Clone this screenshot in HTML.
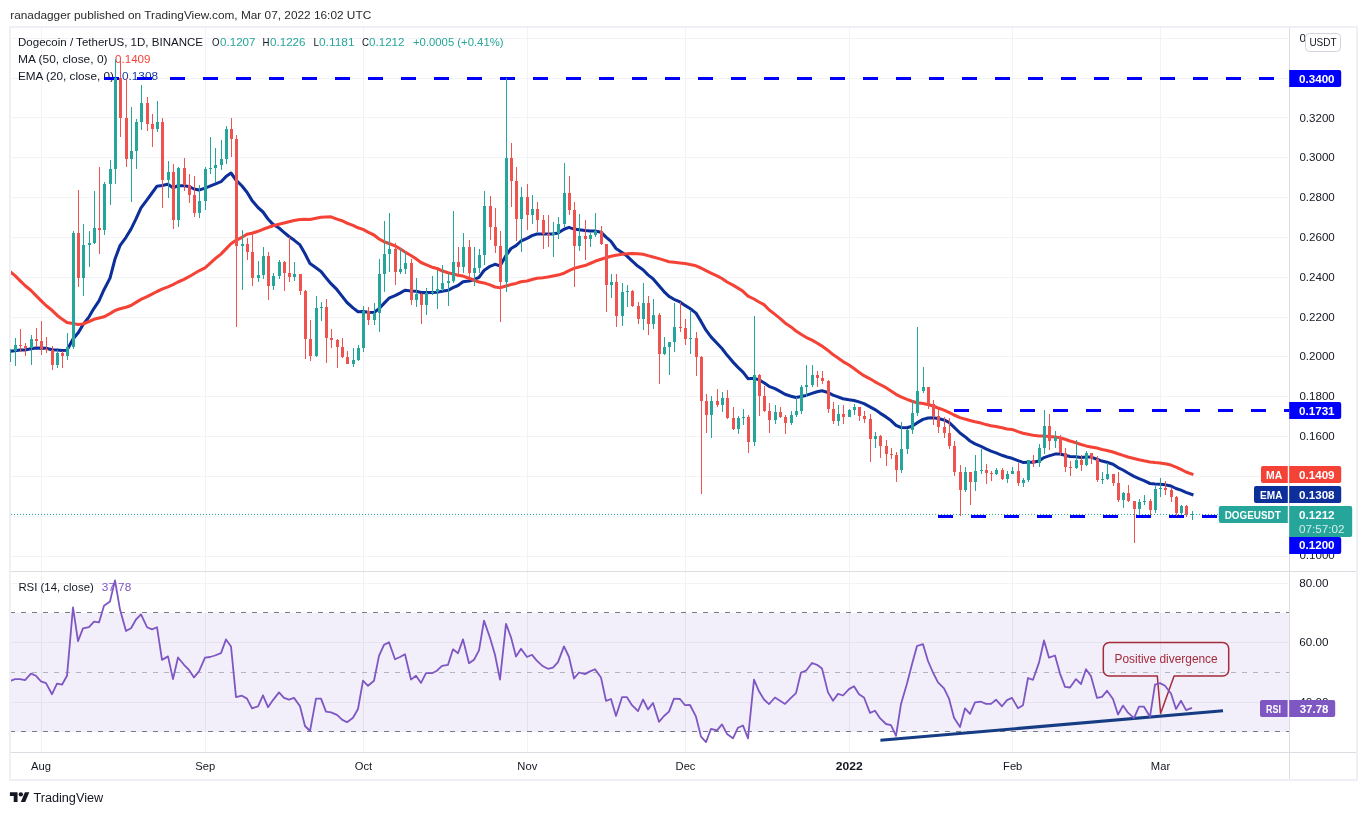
<!DOCTYPE html><html><head><meta charset="utf-8"><style>html,body{margin:0;padding:0;background:#fff}body{width:1367px;height:815px;overflow:hidden;font-family:"Liberation Sans",sans-serif}</style></head><body><svg width="1367" height="815" viewBox="0 0 1367 815" style="will-change:transform;display:block;font-family:'Liberation Sans', sans-serif">
<rect width="1367" height="815" fill="#fff"/>
<defs><clipPath id="cp"><rect x="10.6" y="28" width="1279" height="724"/></clipPath></defs>
<text x="10.2" y="19.2" font-size="11.2" fill="#2a2a2a" textLength="361" lengthAdjust="spacingAndGlyphs">ranadagger published on TradingView.com, Mar 07, 2022 16:02 UTC</text>
<rect x="11" y="613" width="1278" height="119" fill="#f2eefa"/>
<g fill="#f2f3f6">
<rect x="11" y="38" width="1278" height="1"/>
<rect x="11" y="78" width="1278" height="1"/>
<rect x="11" y="117" width="1278" height="1"/>
<rect x="11" y="157" width="1278" height="1"/>
<rect x="11" y="197" width="1278" height="1"/>
<rect x="11" y="237" width="1278" height="1"/>
<rect x="11" y="277" width="1278" height="1"/>
<rect x="11" y="317" width="1278" height="1"/>
<rect x="11" y="356" width="1278" height="1"/>
<rect x="11" y="396" width="1278" height="1"/>
<rect x="11" y="436" width="1278" height="1"/>
<rect x="11" y="476" width="1278" height="1"/>
<rect x="11" y="516" width="1278" height="1"/>
<rect x="11" y="556" width="1278" height="1"/>
<rect x="41" y="28" width="1" height="724"/>
<rect x="205" y="28" width="1" height="724"/>
<rect x="363" y="28" width="1" height="724"/>
<rect x="527" y="28" width="1" height="724"/>
<rect x="685" y="28" width="1" height="724"/>
<rect x="849" y="28" width="1" height="724"/>
<rect x="1012" y="28" width="1" height="724"/>
<rect x="1160" y="28" width="1" height="724"/>
</g>
<rect x="11" y="583" width="1278" height="1" fill="#f2f3f6"/>
<g fill="#e6e3ef">
<rect x="11" y="642" width="1278" height="1"/>
<rect x="11" y="702" width="1278" height="1"/>
</g>
<g fill="#e4e0ee">
<rect x="41" y="613" width="1" height="119"/>
<rect x="205" y="613" width="1" height="119"/>
<rect x="363" y="613" width="1" height="119"/>
<rect x="527" y="613" width="1" height="119"/>
<rect x="685" y="613" width="1" height="119"/>
<rect x="849" y="613" width="1" height="119"/>
<rect x="1012" y="613" width="1" height="119"/>
<rect x="1160" y="613" width="1" height="119"/>
</g>
<path d="M10 612.5H1289M10 731.5H1289" stroke="#787b86" stroke-width="1" stroke-dasharray="5 6" fill="none"/>
<path d="M10 672.5H1289" stroke="#b2b5be" stroke-width="1" stroke-dasharray="5 6" fill="none"/>
<text x="18.0" y="46.2" font-size="11.2" fill="#131722" textLength="185.0" lengthAdjust="spacingAndGlyphs">Dogecoin / TetherUS, 1D, BINANCE</text>
<text x="212.0" y="46.2" font-size="11.2" fill="#131722" textLength="7.5" lengthAdjust="spacingAndGlyphs">O</text>
<text x="220.0" y="46.2" font-size="11.2" fill="#26a69a" textLength="35.5" lengthAdjust="spacingAndGlyphs">0.1207</text>
<text x="262.5" y="46.2" font-size="11.2" fill="#131722" textLength="7.0" lengthAdjust="spacingAndGlyphs">H</text>
<text x="270.0" y="46.2" font-size="11.2" fill="#26a69a" textLength="35.5" lengthAdjust="spacingAndGlyphs">0.1226</text>
<text x="313.5" y="46.2" font-size="11.2" fill="#131722" textLength="5.5" lengthAdjust="spacingAndGlyphs">L</text>
<text x="319.0" y="46.2" font-size="11.2" fill="#26a69a" textLength="35.5" lengthAdjust="spacingAndGlyphs">0.1181</text>
<text x="362.0" y="46.2" font-size="11.2" fill="#131722" textLength="7.0" lengthAdjust="spacingAndGlyphs">C</text>
<text x="369.0" y="46.2" font-size="11.2" fill="#26a69a" textLength="35.5" lengthAdjust="spacingAndGlyphs">0.1212</text>
<text x="413.0" y="46.2" font-size="11.2" fill="#26a69a" textLength="90.5" lengthAdjust="spacingAndGlyphs">+0.0005 (+0.41%)</text>
<text x="18.0" y="63.2" font-size="11.2" fill="#131722" textLength="89.5" lengthAdjust="spacingAndGlyphs">MA (50, close, 0)</text>
<text x="115.0" y="63.2" font-size="11.2" fill="#f44336" textLength="35.5" lengthAdjust="spacingAndGlyphs">0.1409</text>
<text x="18.0" y="79.8" font-size="11.2" fill="#131722" textLength="96.0" lengthAdjust="spacingAndGlyphs">EMA (20, close, 0)</text>
<text x="122.0" y="79.8" font-size="11.2" fill="#1a3c9c" textLength="36.0" lengthAdjust="spacingAndGlyphs">0.1308</text>
<text x="18.4" y="591.0" font-size="11.2" fill="#131722" textLength="75.4" lengthAdjust="spacingAndGlyphs">RSI (14, close)</text>
<text x="101.7" y="591.0" font-size="11.2" fill="#7e57c2" textLength="29.5" lengthAdjust="spacingAndGlyphs">37.78</text>
<polyline clip-path="url(#cp)" points="9.0,351.3 15.0,350.7 20.0,350.1 25.0,349.9 31.0,348.8 36.0,348.1 41.0,348.1 46.0,348.3 52.0,349.8 57.0,350.0 62.0,350.5 67.0,350.2 73.0,339.0 78.0,333.1 83.0,324.7 89.0,316.8 94.0,308.3 99.0,300.8 104.0,289.7 110.0,278.1 115.0,259.0 120.0,245.6 126.0,237.3 131.0,229.1 136.0,218.9 141.0,207.9 147.0,199.9 152.0,193.0 157.0,186.2 162.0,185.6 168.0,184.3 173.0,187.7 178.0,185.8 184.0,185.7 189.0,186.5 194.0,189.0 199.0,190.1 205.0,188.1 210.0,186.1 215.0,184.1 221.0,181.7 226.0,176.6 231.0,173.0 236.0,180.0 242.0,186.0 247.0,192.3 252.0,200.4 258.0,207.5 263.0,212.0 268.0,219.0 273.0,224.4 279.0,228.0 284.0,232.3 289.0,236.5 294.0,240.1 300.0,244.9 305.0,253.8 310.0,263.5 316.0,267.7 321.0,271.5 326.0,277.8 331.0,283.7 337.0,289.7 342.0,296.1 347.0,302.5 353.0,307.9 358.0,311.7 363.0,311.6 368.0,312.3 374.0,312.4 379.0,308.7 384.0,303.4 389.0,298.2 395.0,295.7 400.0,293.1 405.0,290.2 411.0,291.0 416.0,291.3 421.0,292.6 426.0,292.6 432.0,292.5 437.0,292.2 442.0,291.2 448.0,290.3 453.0,287.6 458.0,285.5 463.0,281.8 469.0,280.9 474.0,279.7 479.0,277.3 484.0,270.5 490.0,266.3 495.0,264.3 500.0,265.9 506.0,255.6 511.0,248.5 516.0,245.7 521.0,241.0 527.0,238.4 532.0,235.6 537.0,234.0 543.0,234.0 548.0,234.1 553.0,234.0 558.0,233.0 564.0,229.2 569.0,227.4 574.0,229.1 579.0,229.8 585.0,230.6 590.0,231.0 595.0,230.9 601.0,232.2 606.0,237.1 611.0,241.4 616.0,248.5 622.0,252.5 627.0,256.1 632.0,260.9 638.0,266.3 643.0,269.8 648.0,274.9 653.0,278.7 659.0,285.8 664.0,291.6 669.0,296.4 674.0,299.3 680.0,301.9 685.0,305.4 690.0,308.5 696.0,313.1 701.0,321.4 706.0,330.2 711.0,336.9 717.0,343.3 722.0,348.5 727.0,355.1 733.0,362.1 738.0,367.4 743.0,372.1 748.0,378.7 754.0,378.3 759.0,379.9 764.0,382.8 769.0,386.3 775.0,388.7 780.0,391.4 785.0,394.3 791.0,396.3 796.0,397.6 801.0,396.5 806.0,395.4 812.0,393.4 817.0,391.8 822.0,390.8 828.0,392.5 833.0,395.1 838.0,396.9 843.0,398.7 849.0,399.8 854.0,400.5 859.0,401.9 864.0,403.6 870.0,406.9 875.0,409.6 880.0,413.1 886.0,416.9 891.0,420.6 896.0,425.3 901.0,427.5 907.0,427.7 912.0,426.3 917.0,422.9 923.0,419.4 928.0,418.0 933.0,417.7 938.0,418.5 944.0,419.9 949.0,422.3 954.0,427.1 960.0,433.0 965.0,436.7 970.0,441.0 975.0,443.8 981.0,446.3 986.0,448.8 991.0,451.1 996.0,452.9 1002.0,455.3 1007.0,457.0 1012.0,458.3 1018.0,460.6 1023.0,462.4 1028.0,462.2 1033.0,462.3 1039.0,460.9 1044.0,457.6 1049.0,455.9 1055.0,454.1 1060.0,454.0 1065.0,455.2 1070.0,456.4 1076.0,456.7 1081.0,457.5 1086.0,457.0 1091.0,457.1 1097.0,459.3 1102.0,461.1 1107.0,462.3 1113.0,464.3 1118.0,467.6 1123.0,470.0 1128.0,473.0 1134.0,476.3 1139.0,478.7 1144.0,480.7 1150.0,483.5 1155.0,484.0 1160.0,484.3 1165.0,484.8 1171.0,486.0 1176.0,488.5 1181.0,490.1 1186.0,492.4 1192.0,494.5" fill="none" stroke="#0c2f9a" stroke-width="3.05" stroke-linejoin="round" stroke-linecap="square"/>
<polyline clip-path="url(#cp)" points="9.0,270.7 15.0,275.6 20.0,280.6 25.0,285.5 31.0,290.5 36.0,295.6 41.0,300.6 46.0,305.5 52.0,310.3 57.0,315.2 62.0,319.1 67.0,322.5 73.0,323.4 78.0,324.4 83.0,324.0 89.0,321.5 94.0,319.3 99.0,318.1 104.0,316.8 110.0,313.6 115.0,310.5 120.0,308.8 126.0,307.2 131.0,305.5 136.0,302.4 141.0,299.4 147.0,296.7 152.0,294.1 157.0,291.5 162.0,289.2 168.0,286.9 173.0,284.6 178.0,282.0 184.0,279.3 189.0,276.7 194.0,273.8 199.0,270.8 205.0,267.9 210.0,263.4 215.0,258.8 221.0,254.1 226.0,248.9 231.0,243.7 236.0,240.3 242.0,237.3 247.0,234.3 252.0,233.3 258.0,231.3 263.0,229.3 268.0,227.5 273.0,225.8 279.0,224.3 284.0,223.0 289.0,221.7 294.0,220.4 300.0,219.4 305.0,219.3 310.0,219.4 316.0,218.2 321.0,217.3 326.0,217.0 331.0,216.8 337.0,219.1 342.0,220.7 347.0,223.1 353.0,225.4 358.0,227.8 363.0,229.4 368.0,232.2 374.0,235.0 379.0,239.0 384.0,241.7 389.0,243.5 395.0,245.9 400.0,248.8 405.0,252.0 411.0,255.5 416.0,258.8 421.0,262.5 426.0,264.7 432.0,267.2 437.0,268.5 442.0,270.8 448.0,272.8 453.0,274.1 458.0,275.2 463.0,276.1 469.0,278.2 474.0,280.2 479.0,282.0 484.0,282.9 490.0,284.9 495.0,287.0 500.0,287.7 506.0,286.0 511.0,284.6 516.0,283.4 521.0,281.8 527.0,281.0 532.0,279.5 537.0,278.3 543.0,277.8 548.0,277.0 553.0,276.1 558.0,275.1 564.0,273.2 569.0,270.6 574.0,268.4 579.0,267.0 585.0,265.6 590.0,263.5 595.0,261.3 601.0,259.3 606.0,257.8 611.0,256.2 616.0,255.3 622.0,254.2 627.0,253.8 632.0,253.5 638.0,253.7 643.0,254.2 648.0,255.6 653.0,256.9 659.0,258.6 664.0,260.1 669.0,261.7 674.0,262.3 680.0,263.0 685.0,263.6 690.0,264.5 696.0,265.8 701.0,268.0 706.0,270.7 711.0,273.1 717.0,275.9 722.0,278.5 727.0,282.0 733.0,285.1 738.0,288.1 743.0,291.3 748.0,296.1 754.0,299.0 759.0,302.0 764.0,304.6 769.0,309.8 775.0,314.4 780.0,318.4 785.0,322.9 791.0,326.9 796.0,331.0 801.0,334.3 806.0,337.3 812.0,340.1 817.0,343.0 822.0,346.1 828.0,350.4 833.0,354.6 838.0,358.0 843.0,361.6 849.0,365.0 854.0,368.5 859.0,372.2 864.0,375.7 870.0,378.8 875.0,381.8 880.0,384.5 886.0,387.7 891.0,391.0 896.0,394.3 901.0,396.9 907.0,399.4 912.0,401.2 917.0,402.7 923.0,403.4 928.0,404.5 933.0,406.0 938.0,408.0 944.0,410.1 949.0,412.3 954.0,415.0 960.0,417.6 965.0,419.1 970.0,420.4 975.0,421.8 981.0,423.1 986.0,424.6 991.0,425.7 996.0,426.5 1002.0,427.7 1007.0,428.9 1012.0,429.4 1018.0,431.6 1023.0,433.3 1028.0,434.3 1033.0,435.2 1039.0,435.9 1044.0,436.1 1049.0,436.4 1055.0,436.9 1060.0,437.7 1065.0,439.3 1070.0,441.0 1076.0,442.7 1081.0,444.5 1086.0,445.9 1091.0,446.9 1097.0,448.1 1102.0,449.4 1107.0,450.5 1113.0,452.0 1118.0,453.8 1123.0,455.4 1128.0,457.0 1134.0,458.4 1139.0,459.7 1144.0,460.8 1150.0,461.9 1155.0,462.6 1160.0,462.9 1165.0,463.8 1171.0,465.1 1176.0,467.1 1181.0,469.4 1186.0,472.0 1192.0,474.1" fill="none" stroke="#f44336" stroke-width="3.05" stroke-linejoin="round" stroke-linecap="square"/>
<path d="M104 78.5H1289" stroke="#0000ff" stroke-width="3" stroke-dasharray="15 18" fill="none"/>
<path d="M954 410.5H1289" stroke="#0000ff" stroke-width="3" stroke-dasharray="15 18" fill="none"/>
<path d="M938 516.5H1218" stroke="#0000ff" stroke-width="3" stroke-dasharray="15 18" fill="none"/>
<path d="M9 349h1V362h-1zM10 351h1V354h-1zM15 338h1V366h-1zM14 345h3V351h-3zM31 335h1V365h-1zM30 339h3V348h-3zM57 350h1V368h-1zM56 353h3V365h-3zM67 333h1V360h-1zM66 347h3V356h-3zM73 231h1V349h-1zM72 233h3V347h-3zM83 224h1V296h-1zM82 245h3V278h-3zM89 231h1V267h-1zM88 243h3V245h-3zM94 191h1V244h-1zM93 228h3V243h-3zM104 182h1V235h-1zM103 184h3V230h-3zM110 160h1V205h-1zM109 169h3V184h-3zM115 59h1V184h-1zM114 78h3V169h-3zM131 107h1V202h-1zM130 151h3V159h-3zM136 119h1V169h-1zM135 122h3V151h-3zM141 85h1V130h-1zM140 103h3V122h-3zM157 101h1V132h-1zM156 122h3V129h-3zM168 161h1V198h-1zM167 172h3V180h-3zM178 167h1V227h-1zM177 168h3V220h-3zM199 185h1V218h-1zM198 201h3V213h-3zM205 167h1V210h-1zM204 169h3V201h-3zM210 137h1V174h-1zM209 168h3V169h-3zM215 148h1V182h-1zM214 165h3V168h-3zM221 140h1V170h-1zM220 159h3V165h-3zM226 126h1V164h-1zM225 129h3V159h-3zM242 230h1V290h-1zM241 244h3V246h-3zM258 261h1V282h-1zM257 275h3V278h-3zM263 247h1V279h-1zM262 256h3V275h-3zM273 273h1V290h-1zM272 276h3V286h-3zM279 260h1V279h-1zM278 262h3V276h-3zM294 262h1V281h-1zM293 274h3V277h-3zM316 296h1V357h-1zM315 308h3V356h-3zM321 302h1V321h-1zM320 307h3V308h-3zM353 348h1V367h-1zM352 360h3V364h-3zM358 345h1V361h-1zM357 348h3V360h-3zM363 306h1V352h-1zM362 311h3V348h-3zM374 303h1V325h-1zM373 313h3V320h-3zM379 259h1V332h-1zM378 274h3V313h-3zM384 221h1V292h-1zM383 254h3V274h-3zM389 213h1V272h-1zM388 249h3V254h-3zM400 248h1V274h-1zM399 269h3V272h-3zM405 251h1V274h-1zM404 263h3V269h-3zM416 278h1V307h-1zM415 294h3V300h-3zM426 288h1V315h-1zM425 293h3V305h-3zM432 276h1V295h-1zM431 292h3V293h-3zM437 270h1V309h-1zM436 289h3V292h-3zM442 265h1V291h-1zM441 283h3V289h-3zM448 273h1V306h-1zM447 281h3V283h-3zM453 211h1V283h-1zM452 262h3V281h-3zM463 233h1V273h-1zM462 247h3V267h-3zM474 247h1V286h-1zM473 268h3V273h-3zM479 249h1V273h-1zM478 255h3V268h-3zM484 191h1V265h-1zM483 206h3V255h-3zM506 78h1V292h-1zM505 158h3V282h-3zM521 187h1V252h-1zM520 197h3V219h-3zM532 195h1V224h-1zM531 209h3V215h-3zM553 222h1V257h-1zM552 233h3V235h-3zM558 217h1V239h-1zM557 224h3V233h-3zM564 163h1V227h-1zM563 193h3V224h-3zM579 214h1V251h-1zM578 236h3V246h-3zM590 233h1V247h-1zM589 235h3V239h-3zM595 213h1V237h-1zM594 231h3V235h-3zM611 274h1V298h-1zM610 282h3V285h-3zM622 283h1V326h-1zM621 292h3V316h-3zM627 285h1V307h-1zM626 291h3V292h-3zM643 283h1V330h-1zM642 303h3V319h-3zM653 299h1V329h-1zM652 315h3V324h-3zM664 337h1V355h-1zM663 347h3V354h-3zM669 342h1V375h-1zM668 342h3V347h-3zM674 303h1V352h-1zM673 327h3V342h-3zM690 310h1V354h-1zM689 338h3V339h-3zM711 396h1V438h-1zM710 401h3V415h-3zM722 392h1V412h-1zM721 398h3V405h-3zM738 416h1V434h-1zM737 418h3V429h-3zM743 409h1V425h-1zM742 417h3V418h-3zM754 316h1V446h-1zM753 375h3V442h-3zM775 405h1V424h-1zM774 412h3V420h-3zM791 411h1V425h-1zM790 415h3V423h-3zM796 397h1V417h-1zM795 411h3V415h-3zM801 385h1V414h-1zM800 387h3V411h-3zM806 365h1V397h-1zM805 385h3V387h-3zM812 365h1V387h-1zM811 375h3V385h-3zM838 405h1V426h-1zM837 414h3V421h-3zM849 409h1V417h-1zM848 410h3V417h-3zM854 404h1V415h-1zM853 407h3V410h-3zM875 432h1V448h-1zM874 436h3V439h-3zM901 422h1V473h-1zM900 449h3V470h-3zM907 429h1V454h-1zM906 430h3V449h-3zM912 400h1V434h-1zM911 413h3V430h-3zM917 327h1V416h-1zM916 391h3V413h-3zM923 367h1V393h-1zM922 387h3V391h-3zM965 467h1V492h-1zM964 472h3V490h-3zM975 455h1V491h-1zM974 471h3V482h-3zM981 449h1V474h-1zM980 470h3V471h-3zM996 468h1V475h-1zM995 470h3V474h-3zM1007 471h1V483h-1zM1006 474h3V479h-3zM1012 467h1V474h-1zM1011 471h3V474h-3zM1023 478h1V487h-1zM1022 480h3V483h-3zM1028 460h1V482h-1zM1027 460h3V480h-3zM1039 444h1V467h-1zM1038 448h3V463h-3zM1044 410h1V454h-1zM1043 426h3V448h-3zM1055 431h1V448h-1zM1054 437h3V441h-3zM1076 440h1V469h-1zM1075 460h3V468h-3zM1086 451h1V466h-1zM1085 453h3V465h-3zM1102 472h1V484h-1zM1101 479h3V480h-3zM1107 463h1V480h-1zM1106 474h3V479h-3zM1123 492h1V508h-1zM1122 493h3V500h-3zM1139 499h1V515h-1zM1138 502h3V509h-3zM1144 495h1V505h-1zM1143 501h3V502h-3zM1155 486h1V513h-1zM1154 489h3V510h-3zM1160 478h1V497h-1zM1159 488h3V489h-3zM1181 505h1V514h-1zM1180 506h3V513h-3zM1192 511h1V520h-1zM1191 514h3V515h-3z" fill="#26a69a"/>
<path d="M20 329h1V352h-1zM19 345h3V346h-3zM25 343h1V356h-1zM24 346h3V348h-3zM36 328h1V347h-1zM35 339h3V341h-3zM41 321h1V355h-1zM40 341h3V349h-3zM46 337h1V353h-1zM45 349h3V350h-3zM52 346h1V370h-1zM51 350h3V365h-3zM62 351h1V368h-1zM61 353h3V356h-3zM78 190h1V287h-1zM77 233h3V278h-3zM99 167h1V254h-1zM98 228h3V230h-3zM120 58h1V137h-1zM119 78h3V118h-3zM126 78h1V167h-1zM125 118h3V159h-3zM147 97h1V131h-1zM146 103h3V124h-3zM152 114h1V147h-1zM151 124h3V129h-3zM162 118h1V208h-1zM161 122h3V180h-3zM173 164h1V229h-1zM172 172h3V220h-3zM184 158h1V191h-1zM183 168h3V185h-3zM189 174h1V203h-1zM188 185h3V195h-3zM194 176h1V217h-1zM193 195h3V213h-3zM231 118h1V157h-1zM230 129h3V139h-3zM236 135h1V327h-1zM235 139h3V246h-3zM247 238h1V260h-1zM246 244h3V252h-3zM252 234h1V286h-1zM251 252h3V278h-3zM268 252h1V300h-1zM267 256h3V286h-3zM284 261h1V291h-1zM283 262h3V273h-3zM289 237h1V282h-1zM288 273h3V277h-3zM300 274h1V295h-1zM299 274h3V291h-3zM305 290h1V359h-1zM304 291h3V339h-3zM310 320h1V361h-1zM309 339h3V356h-3zM326 299h1V363h-1zM325 307h3V338h-3zM331 329h1V348h-1zM330 338h3V340h-3zM337 339h1V368h-1zM336 340h3V347h-3zM342 338h1V358h-1zM341 347h3V357h-3zM347 351h1V364h-1zM346 357h3V364h-3zM368 307h1V325h-1zM367 311h3V320h-3zM395 243h1V285h-1zM394 249h3V272h-3zM411 259h1V305h-1zM410 263h3V300h-3zM421 293h1V324h-1zM420 294h3V305h-3zM458 247h1V274h-1zM457 262h3V267h-3zM469 240h1V277h-1zM468 247h3V273h-3zM490 196h1V240h-1zM489 206h3V227h-3zM495 208h1V253h-1zM494 227h3V246h-3zM500 231h1V322h-1zM499 246h3V282h-3zM511 143h1V207h-1zM510 158h3V181h-3zM516 167h1V241h-1zM515 181h3V219h-3zM527 184h1V230h-1zM526 197h3V215h-3zM537 202h1V232h-1zM536 209h3V220h-3zM543 215h1V249h-1zM542 220h3V234h-3zM548 215h1V247h-1zM547 234h3V235h-3zM569 176h1V215h-1zM568 193h3V210h-3zM574 202h1V287h-1zM573 210h3V246h-3zM585 220h1V260h-1zM584 236h3V239h-3zM601 226h1V245h-1zM600 231h3V244h-3zM606 244h1V312h-1zM605 244h3V285h-3zM616 274h1V327h-1zM615 282h3V316h-3zM632 290h1V307h-1zM631 291h3V306h-3zM638 302h1V324h-1zM637 306h3V319h-3zM648 296h1V335h-1zM647 303h3V324h-3zM659 313h1V384h-1zM658 315h3V354h-3zM680 302h1V332h-1zM679 327h3V328h-3zM685 319h1V345h-1zM684 328h3V339h-3zM696 332h1V376h-1zM695 338h3V357h-3zM701 356h1V494h-1zM700 357h3V401h-3zM706 394h1V433h-1zM705 401h3V415h-3zM717 389h1V407h-1zM716 401h3V405h-3zM727 390h1V419h-1zM726 398h3V418h-3zM733 407h1V430h-1zM732 418h3V429h-3zM748 415h1V453h-1zM747 417h3V442h-3zM759 374h1V416h-1zM758 375h3V396h-3zM764 386h1V412h-1zM763 396h3V411h-3zM769 403h1V433h-1zM768 411h3V420h-3zM780 407h1V418h-1zM779 412h3V417h-3zM785 415h1V434h-1zM784 417h3V423h-3zM817 371h1V387h-1zM816 375h3V378h-3zM822 371h1V384h-1zM821 378h3V381h-3zM828 380h1V413h-1zM827 381h3V409h-3zM833 402h1V424h-1zM832 409h3V421h-3zM843 405h1V424h-1zM842 414h3V417h-3zM859 407h1V421h-1zM858 407h3V416h-3zM864 411h1V423h-1zM863 416h3V419h-3zM870 414h1V462h-1zM869 419h3V439h-3zM880 435h1V458h-1zM879 436h3V446h-3zM886 440h1V466h-1zM885 446h3V454h-3zM891 448h1V459h-1zM890 454h3V455h-3zM896 452h1V482h-1zM895 455h3V470h-3zM928 387h1V409h-1zM927 387h3V404h-3zM933 400h1V425h-1zM932 404h3V416h-3zM938 409h1V433h-1zM937 416h3V427h-3zM944 417h1V438h-1zM943 427h3V433h-3zM949 418h1V449h-1zM948 433h3V446h-3zM954 441h1V476h-1zM953 446h3V472h-3zM960 465h1V516h-1zM959 472h3V490h-3zM970 472h1V505h-1zM969 472h3V482h-3zM986 464h1V484h-1zM985 470h3V473h-3zM991 471h1V481h-1zM990 473h3V474h-3zM1002 468h1V480h-1zM1001 470h3V479h-3zM1018 463h1V486h-1zM1017 471h3V483h-3zM1033 455h1V467h-1zM1032 460h3V463h-3zM1049 414h1V450h-1zM1048 426h3V441h-3zM1060 435h1V456h-1zM1059 437h3V453h-3zM1065 448h1V472h-1zM1064 453h3V467h-3zM1070 461h1V476h-1zM1069 467h3V468h-3zM1081 455h1V471h-1zM1080 460h3V465h-3zM1091 453h1V464h-1zM1090 453h3V459h-3zM1097 456h1V482h-1zM1096 459h3V480h-3zM1113 474h1V486h-1zM1112 474h3V483h-3zM1118 472h1V502h-1zM1117 483h3V500h-3zM1128 485h1V502h-1zM1127 493h3V501h-3zM1134 501h1V543h-1zM1133 501h3V509h-3zM1150 499h1V515h-1zM1149 501h3V510h-3zM1165 481h1V495h-1zM1164 488h3V490h-3zM1171 488h1V502h-1zM1170 490h3V497h-3zM1176 496h1V516h-1zM1175 497h3V513h-3zM1186 505h1V517h-1zM1185 506h3V515h-3z" fill="#ef5350"/>
<path d="M11 514.5H1289" stroke="#26a69a" stroke-width="1" stroke-dasharray="1 2" fill="none"/>
<path d="M880.4 740.3L1223 710.8" stroke="#163d84" stroke-width="3.1" fill="none"/>
<path d="M1109.3 642.5H1222.7a6 6 0 0 1 6 6V670a6 6 0 0 1 -6 6H1174.1L1160.6 713.5L1157.3 676H1109.3a6 6 0 0 1 -6 -6V648.5a6 6 0 0 1 6 -6z" fill="none" stroke="#a52c3b" stroke-width="1.5" stroke-linejoin="round"/>
<text x="1114.5" y="662.9" font-size="12.3" fill="#a52c3b" textLength="103.2" lengthAdjust="spacingAndGlyphs">Positive divergence</text>
<polyline clip-path="url(#cp)" points="9.0,681.3 15.0,679.1 20.0,679.1 25.0,680.2 31.0,673.6 36.0,675.8 41.0,681.3 46.0,683.1 52.0,694.2 57.0,683.6 62.0,684.7 67.0,675.8 73.0,607.3 78.0,641.1 83.0,628.3 89.0,627.2 94.0,621.7 99.0,622.4 104.0,605.8 110.0,601.4 115.0,580.4 120.0,609.6 126.0,631.0 131.0,628.3 136.0,619.5 141.0,614.4 147.0,627.2 152.0,629.4 157.0,627.2 162.0,659.9 168.0,656.4 173.0,679.1 178.0,657.5 184.0,664.8 189.0,669.9 194.0,677.4 199.0,671.4 205.0,657.7 210.0,657.0 215.0,655.5 221.0,653.1 226.0,639.4 231.0,646.4 236.0,697.2 242.0,695.7 247.0,698.6 252.0,708.3 258.0,706.3 263.0,695.3 268.0,707.2 273.0,700.1 279.0,692.4 284.0,697.9 289.0,699.7 294.0,697.9 300.0,706.2 305.0,726.0 310.0,731.0 316.0,698.6 321.0,698.6 326.0,711.6 331.0,712.3 337.0,714.9 342.0,719.6 347.0,722.2 353.0,717.8 358.0,709.0 363.0,680.7 368.0,685.8 374.0,680.7 379.0,655.9 384.0,644.9 389.0,642.2 395.0,659.3 400.0,657.0 405.0,654.2 411.0,679.6 416.0,675.8 421.0,682.9 426.0,673.2 432.0,673.2 437.0,670.7 442.0,665.9 448.0,664.8 453.0,649.3 458.0,653.3 463.0,639.4 469.0,663.2 474.0,659.7 479.0,650.4 484.0,620.6 490.0,637.8 495.0,654.8 500.0,679.6 506.0,623.9 511.0,637.2 516.0,656.6 521.0,648.7 527.0,657.0 532.0,654.8 537.0,660.8 543.0,666.3 548.0,668.8 553.0,667.6 558.0,662.1 564.0,646.4 569.0,657.0 574.0,678.5 579.0,672.5 585.0,674.1 590.0,671.4 595.0,669.2 601.0,677.6 606.0,700.8 611.0,699.0 616.0,716.0 622.0,697.2 627.0,697.2 632.0,705.2 638.0,711.2 643.0,699.5 648.0,709.4 653.0,703.0 659.0,721.8 664.0,716.0 669.0,711.6 674.0,698.6 680.0,699.0 685.0,705.2 690.0,705.0 696.0,716.7 701.0,736.6 706.0,742.1 711.0,728.8 717.0,730.4 722.0,724.4 727.0,733.9 733.0,738.3 738.0,727.7 743.0,725.5 748.0,738.3 754.0,679.6 759.0,691.3 764.0,699.5 769.0,704.1 775.0,697.5 780.0,700.8 785.0,703.9 791.0,697.9 796.0,693.1 801.0,672.5 806.0,670.7 812.0,663.0 817.0,664.8 822.0,668.5 828.0,692.4 833.0,700.8 838.0,693.9 843.0,695.5 849.0,689.1 854.0,686.2 859.0,694.3 864.0,697.5 870.0,712.9 875.0,710.7 880.0,718.2 886.0,724.0 891.0,725.1 896.0,735.9 901.0,703.9 907.0,683.6 912.0,664.3 917.0,646.0 923.0,644.2 928.0,661.0 933.0,672.5 938.0,682.4 944.0,688.4 949.0,698.6 954.0,717.8 960.0,727.1 965.0,708.3 970.0,713.8 975.0,702.3 981.0,701.7 986.0,703.9 991.0,703.9 996.0,699.7 1002.0,706.3 1007.0,700.1 1012.0,697.9 1018.0,708.3 1023.0,705.2 1028.0,678.0 1033.0,679.8 1039.0,662.6 1044.0,640.5 1049.0,657.7 1055.0,655.5 1060.0,673.6 1065.0,686.9 1070.0,687.5 1076.0,679.1 1081.0,684.0 1086.0,669.2 1091.0,676.2 1097.0,697.9 1102.0,696.8 1107.0,690.8 1113.0,699.0 1118.0,714.5 1123.0,705.6 1128.0,712.7 1134.0,718.2 1139.0,706.7 1144.0,706.7 1150.0,716.7 1155.0,684.7 1160.0,683.1 1165.0,685.8 1171.0,693.5 1176.0,709.0 1181.0,700.8 1186.0,710.1 1192.0,707.9" fill="none" stroke="#7e57c2" stroke-width="1.8" stroke-linejoin="round"/>
<rect x="1289" y="28" width="67" height="751" fill="#fff"/>
<rect x="11" y="752" width="1345" height="27" fill="#fff"/>
<rect x="1289" y="28" width="1" height="751" fill="#dcdde2"/>
<rect x="11" y="752" width="1345" height="1" fill="#dcdde2"/>
<rect x="11" y="571" width="1345" height="1" fill="#dcdde2"/>
<rect x="10" y="27" width="1347" height="753" fill="none" stroke="#eef0f6" stroke-width="2"/>
<rect x="10" y="349" width="1" height="13" fill="#26a69a"/>
<text x="1299.4" y="41.9" font-size="11.2" fill="#131722" textLength="35.4" lengthAdjust="spacingAndGlyphs">0.3600</text>
<text x="1299.4" y="81.7" font-size="11.2" fill="#131722" textLength="35.4" lengthAdjust="spacingAndGlyphs">0.3400</text>
<text x="1299.4" y="121.5" font-size="11.2" fill="#131722" textLength="35.4" lengthAdjust="spacingAndGlyphs">0.3200</text>
<text x="1299.4" y="161.3" font-size="11.2" fill="#131722" textLength="35.4" lengthAdjust="spacingAndGlyphs">0.3000</text>
<text x="1299.4" y="201.1" font-size="11.2" fill="#131722" textLength="35.4" lengthAdjust="spacingAndGlyphs">0.2800</text>
<text x="1299.4" y="240.9" font-size="11.2" fill="#131722" textLength="35.4" lengthAdjust="spacingAndGlyphs">0.2600</text>
<text x="1299.4" y="280.7" font-size="11.2" fill="#131722" textLength="35.4" lengthAdjust="spacingAndGlyphs">0.2400</text>
<text x="1299.4" y="320.5" font-size="11.2" fill="#131722" textLength="35.4" lengthAdjust="spacingAndGlyphs">0.2200</text>
<text x="1299.4" y="360.3" font-size="11.2" fill="#131722" textLength="35.4" lengthAdjust="spacingAndGlyphs">0.2000</text>
<text x="1299.4" y="400.1" font-size="11.2" fill="#131722" textLength="35.4" lengthAdjust="spacingAndGlyphs">0.1800</text>
<text x="1299.4" y="439.9" font-size="11.2" fill="#131722" textLength="35.4" lengthAdjust="spacingAndGlyphs">0.1600</text>
<text x="1299.4" y="479.7" font-size="11.2" fill="#131722" textLength="35.4" lengthAdjust="spacingAndGlyphs">0.1400</text>
<text x="1299.4" y="519.5" font-size="11.2" fill="#131722" textLength="35.4" lengthAdjust="spacingAndGlyphs">0.1200</text>
<text x="1299.4" y="559.3" font-size="11.2" fill="#131722" textLength="35.4" lengthAdjust="spacingAndGlyphs">0.1000</text>
<text x="1299.2" y="586.6" font-size="11.2" fill="#131722" textLength="29.2" lengthAdjust="spacingAndGlyphs">80.00</text>
<text x="1299.2" y="646.3" font-size="11.2" fill="#131722" textLength="29.2" lengthAdjust="spacingAndGlyphs">60.00</text>
<text x="1299.2" y="705.9" font-size="11.2" fill="#131722" textLength="29.2" lengthAdjust="spacingAndGlyphs">40.00</text>
<rect x="1305.5" y="33.5" width="35" height="18" rx="4" fill="#fff" stroke="#d1d4dc" stroke-width="1"/>
<text x="1309.4" y="46.2" font-size="11.2" fill="#131722" textLength="27.2" lengthAdjust="spacingAndGlyphs">USDT</text>
<path d="M1289.2 70.0h50.0a2 2 0 0 1 2 2v13.0a2 2 0 0 1 -2 2h-50.0z" fill="#0000ff"/>
<text x="1299.0" y="82.5" font-size="11.8" fill="#fff" font-weight="bold" textLength="35.6" lengthAdjust="spacingAndGlyphs">0.3400</text>
<path d="M1289.2 402.0h50.0a2 2 0 0 1 2 2v13.0a2 2 0 0 1 -2 2h-50.0z" fill="#0000ff"/>
<text x="1299.0" y="414.5" font-size="11.8" fill="#fff" font-weight="bold" textLength="35.6" lengthAdjust="spacingAndGlyphs">0.1731</text>
<path d="M1289.2 466.0h50.0a2 2 0 0 1 2 2v13.0a2 2 0 0 1 -2 2h-50.0z" fill="#f44336"/>
<text x="1299.0" y="478.5" font-size="11.8" fill="#fff" font-weight="bold" textLength="35.6" lengthAdjust="spacingAndGlyphs">0.1409</text>
<path d="M1287.8 466.0h-24.8a2 2 0 0 0 -2 2v13.0a2 2 0 0 0 2 2h24.8z" fill="#f44336"/>
<text x="1266.0" y="478.5" font-size="11.8" fill="#fff" font-weight="bold" textLength="16.2" lengthAdjust="spacingAndGlyphs">MA</text>
<path d="M1289.2 486.0h50.0a2 2 0 0 1 2 2v13.0a2 2 0 0 1 -2 2h-50.0z" fill="#0c2f9a"/>
<text x="1299.0" y="498.5" font-size="11.8" fill="#fff" font-weight="bold" textLength="35.6" lengthAdjust="spacingAndGlyphs">0.1308</text>
<path d="M1287.8 486.0h-31.8a2 2 0 0 0 -2 2v13.0a2 2 0 0 0 2 2h31.8z" fill="#0c2f9a"/>
<text x="1260.1" y="498.5" font-size="11.8" fill="#fff" font-weight="bold" textLength="22.3" lengthAdjust="spacingAndGlyphs">EMA</text>
<path d="M1289.2 537.0h50.0a2 2 0 0 1 2 2v13.0a2 2 0 0 1 -2 2h-50.0z" fill="#0000ff"/>
<text x="1299.0" y="549.4" font-size="11.8" fill="#fff" font-weight="bold" textLength="35.6" lengthAdjust="spacingAndGlyphs">0.1200</text>
<path d="M1289.2 506.0h61.0a2 2 0 0 1 2 2v27.0a2 2 0 0 1 -2 2h-61.0z" fill="#26a69a"/>
<text x="1299.0" y="518.5" font-size="11.8" fill="#fff" font-weight="bold" textLength="35.6" lengthAdjust="spacingAndGlyphs">0.1212</text>
<text x="1299.0" y="533.0" font-size="11.2" fill="#d4edea" textLength="45.5" lengthAdjust="spacingAndGlyphs">07:57:02</text>
<path d="M1287.8 506.0h-67.0a2 2 0 0 0 -2 2v13.0a2 2 0 0 0 2 2h67.0z" fill="#26a69a"/>
<text x="1224.7" y="518.5" font-size="11.8" fill="#fff" font-weight="bold" textLength="56.0" lengthAdjust="spacingAndGlyphs">DOGEUSDT</text>
<path d="M1289.2 700.0h44.0a2 2 0 0 1 2 2v13.0a2 2 0 0 1 -2 2h-44.0z" fill="#7e57c2"/>
<text x="1299.7" y="712.5" font-size="11.8" fill="#fff" font-weight="bold" textLength="28.7" lengthAdjust="spacingAndGlyphs">37.78</text>
<path d="M1287.6 700.0h-25.6a2 2 0 0 0 -2 2v13.0a2 2 0 0 0 2 2h25.6z" fill="#7e57c2"/>
<text x="1266.1" y="712.5" font-size="11.8" fill="#fff" font-weight="bold" textLength="14.8" lengthAdjust="spacingAndGlyphs">RSI</text>
<text x="41.0" y="769.8" font-size="11.2" fill="#131722" text-anchor="middle">Aug</text>
<text x="205.3" y="769.8" font-size="11.2" fill="#131722" text-anchor="middle">Sep</text>
<text x="363.5" y="769.8" font-size="11.2" fill="#131722" text-anchor="middle">Oct</text>
<text x="527.3" y="769.8" font-size="11.2" fill="#131722" text-anchor="middle">Nov</text>
<text x="685.5" y="769.8" font-size="11.2" fill="#131722" text-anchor="middle">Dec</text>
<text x="849.2" y="769.8" font-size="11.2" fill="#131722" text-anchor="middle" font-weight="bold" textLength="26.9" lengthAdjust="spacingAndGlyphs">2022</text>
<text x="1012.7" y="769.8" font-size="11.2" fill="#131722" text-anchor="middle">Feb</text>
<text x="1160.5" y="769.8" font-size="11.2" fill="#131722" text-anchor="middle">Mar</text>
<g transform="translate(9.9,790) scale(0.546)" fill="#131722"><path d="M14 22H7V11H0V4h14v18zM28 22h-8l7.5-18h8L28 22z"/><circle cx="20" cy="8" r="4"/></g>
<text x="33.4" y="802.0" font-size="12.3" fill="#131722" textLength="69.8" lengthAdjust="spacingAndGlyphs">TradingView</text>
</svg></body></html>
